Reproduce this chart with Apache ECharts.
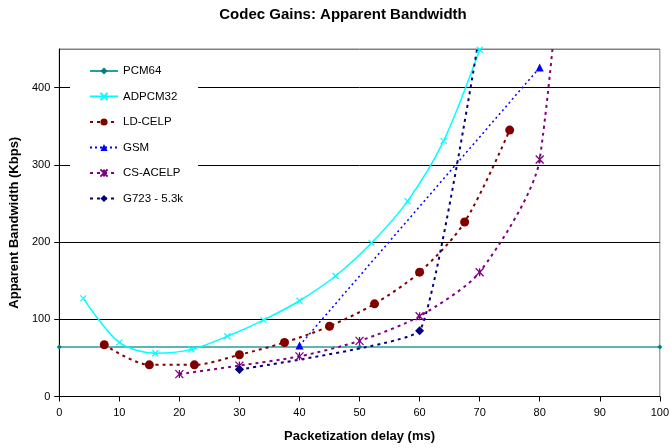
<!DOCTYPE html>
<html>
<head>
<meta charset="utf-8">
<script src="https://cdn.jsdelivr.net/npm/echarts@6/dist/echarts.min.js"></script>
<style>
  html, body { margin: 0; padding: 0; background: #fff; }
  #chart { width: 672px; height: 448px; }
</style>
</head>
<body>
<div id="chart"></div>
<script>
// Packetization delay (ms) vs apparent bandwidth (Kbps) per codec
const seriesNames = ['PCM64', 'ADPCM32', 'LD-CELP', 'GSM', 'CS-ACELP', 'G723 - 5.3k'];
const pcm64 = [[0, 64], [50, 64], [100, 64]];
const adpcm32 = [[4, 127], [10, 70], [16, 56], [22, 61], [28, 78], [34, 99], [40, 124], [46, 156], [52, 199], [58, 253], [64, 331], [70, 449]];
const ldCelp = [[7.5, 67], [15, 41], [22.5, 41], [30, 54], [37.5, 70], [45, 91], [52.5, 120], [60, 161], [67.5, 226], [75, 345]];
const gsm = [[40, 66], [80, 426]];
const csAcelp = [[20, 29], [30, 40], [40, 52], [50, 72], [60, 104], [70, 161], [80, 307], [90, 1250]];
const g723 = [[30, 35], [60, 85], [70, 470]];
const xTicks = [0, 10, 20, 30, 40, 50, 60, 70, 80, 90, 100];
const yTicks = [0, 100, 200, 300, 400];

const FONT = "'Liberation Sans', Arial, sans-serif";
const crossPath = 'path://M0,0L10,10M10,0L0,10';
const starPath = 'path://M0,0L10,10M10,0L0,10M5,0L5,10';

const chart = echarts.init(document.getElementById('chart'), null, { renderer: 'canvas' });

function strokeSymbolStyle(color, width) {
  return { color: color, borderColor: color, borderWidth: width };
}

chart.setOption({
  backgroundColor: '#fff',
  animation: false,
  textStyle: { fontFamily: FONT },
  title: {
    text: 'Codec Gains: Apparent Bandwidth',
    left: 338, top: 2, textAlign: 'center',
    textStyle: { fontFamily: FONT, fontSize: 15, fontWeight: 'bold', color: '#000' }
  },
  grid: {
    left: 57, right: 8, top: 49, bottom: 51,
    show: true, borderColor: '#808080', borderWidth: 1, backgroundColor: 'transparent'
  },
  legend: {
    orient: 'vertical',
    left: 70, top: 55,
    padding: [10, 15, 10, 19],
    backgroundColor: '#fff',
    itemWidth: 28, itemHeight: 9, itemGap: 13.5,
    textStyle: { fontFamily: FONT, fontSize: 11.5, color: '#000' },
    data: seriesNames
  },
  xAxis: {
    type: 'value',
    min: xTicks[0], max: xTicks[xTicks.length - 1], interval: 10,
    name: 'Packetization delay (ms)',
    nameLocation: 'middle', nameGap: 33.5,
    nameTextStyle: { fontFamily: FONT, fontSize: 13, fontWeight: 'bold', color: '#000' },
    axisLine: { lineStyle: { color: '#000', width: 1 } },
    axisTick: { show: true, inside: false, length: 5, lineStyle: { color: '#000' } },
    axisLabel: { fontFamily: FONT, fontSize: 11, color: '#000', margin: 11 },
    splitLine: { show: false }
  },
  yAxis: {
    type: 'value',
    min: yTicks[0], max: 450, interval: 100,
    name: 'Apparent Bandwidth (Kbps)',
    nameLocation: 'middle', nameGap: 34.5,
    nameTextStyle: { fontFamily: FONT, fontSize: 13, fontWeight: 'bold', color: '#000' },
    axisLine: { show: true, lineStyle: { color: '#000', width: 1 } },
    axisTick: { show: true, inside: false, length: 5, lineStyle: { color: '#000' } },
    axisLabel: { fontFamily: FONT, fontSize: 11, color: '#000', margin: 9, showMaxLabel: false },
    splitLine: {
      show: true,
      lineStyle: { color: ['#000', '#000', '#000', '#000', '#000', '#808080'], width: 1 }
    }
  },
  series: [
    {
      name: seriesNames[0], type: 'line', data: pcm64,
      symbol: 'diamond', symbolSize: 5,
      lineStyle: { color: '#2a9d9d', width: 1.5 },
      itemStyle: { color: '#008080' },
      z: 3
    },
    {
      name: seriesNames[1], type: 'line', data: adpcm32, smooth: 0.3,
      symbol: crossPath, symbolSize: 6,
      lineStyle: { color: '#00ffff', width: 1.5 },
      itemStyle: strokeSymbolStyle('#00ffff', 1.2),
      z: 4
    },
    {
      name: seriesNames[2], type: 'line', data: ldCelp, smooth: 0.3,
      symbol: 'circle', symbolSize: 9,
      lineStyle: { color: '#800000', width: 2, type: [3, 4] },
      itemStyle: { color: '#800000' },
      z: 4
    },
    {
      name: seriesNames[3], type: 'line', data: gsm,
      symbol: 'triangle', symbolSize: 8,
      lineStyle: { color: '#0000ff', width: 1.5, type: [2, 3] },
      itemStyle: { color: '#0000ff' },
      z: 4
    },
    {
      name: seriesNames[4], type: 'line', data: csAcelp, smooth: 0.25,
      symbol: starPath, symbolSize: 8,
      lineStyle: { color: '#800080', width: 2, type: [3, 4] },
      itemStyle: strokeSymbolStyle('#800080', 1.3),
      z: 4
    },
    {
      name: seriesNames[5], type: 'line', data: g723, smooth: 0.1,
      symbol: 'diamond', symbolSize: 9,
      lineStyle: { color: '#000080', width: 2, type: [3, 4] },
      itemStyle: { color: '#000080' },
      z: 4
    }
  ]
});
</script>
</body>
</html>
